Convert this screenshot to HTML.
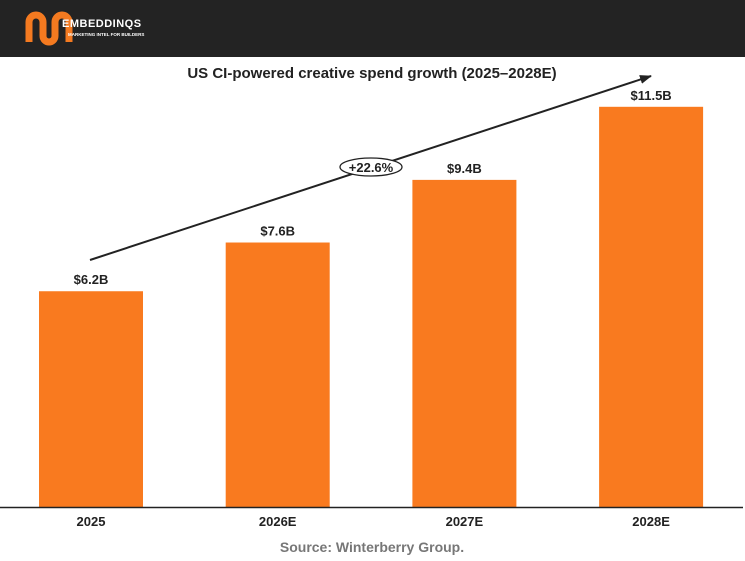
<!DOCTYPE html>
<html><head><meta charset="utf-8"><style>
body{margin:0;width:745px;height:556px;background:#fff;overflow:hidden;font-family:"Liberation Sans",Arial,sans-serif}
</style></head><body>
<svg width="745" height="556" xmlns="http://www.w3.org/2000/svg">
<rect x="0" y="0" width="745" height="57" fill="#232323"/>
<g>
<path d="M29 42 V22 a7 7 0 0 1 14 0 V36 a6 6 0 0 0 12 0 V22 a7 7 0 0 1 14 0 V42" fill="none" stroke="#f47a20" stroke-width="7"/>
<text x="62" y="27" fill="#fff" font-size="11" font-weight="bold" letter-spacing="0.5">EMBEDDINQS</text>
<text x="68" y="36" fill="#fff" font-size="4.5" font-weight="bold">MARKETING INTEL FOR BUILDERS</text>
</g>
<text x="372" y="78" text-anchor="middle" font-size="15" font-weight="bold" fill="#222">US CI-powered creative spend growth (2025–2028E)</text>
<g id="bars"></g>
<line x1="0" y1="507.5" x2="743" y2="507.5" stroke="#222" stroke-width="1.5"/>
<defs><marker id="ah" markerUnits="userSpaceOnUse" markerWidth="12" markerHeight="9" refX="11" refY="4.5" orient="auto"><path d="M0 0 L12 4.5 L0 9 Z" fill="#222"/></marker></defs>
<line x1="90" y1="260" x2="651" y2="76" stroke="#222" stroke-width="2" marker-end="url(#ah)"/>
<g>
<ellipse cx="371" cy="167" rx="31" ry="9" fill="#fff" stroke="#222" stroke-width="1.3"/>
<text x="371" y="172" text-anchor="middle" font-size="13" font-weight="bold" fill="#222">+22.6%</text>
</g>
<text x="372" y="552" text-anchor="middle" font-size="14" font-weight="bold" fill="#777">Source: Winterberry Group.</text>
</svg>
<script>
const categories=["2025","2026E","2027E","2028E"];
const values=[6.2,7.6,9.4,11.5];
const valueLabels=["$6.2B","$7.6B","$9.4B","$11.5B"];
const baseY=507, pxPerUnit=34.8, barW=104, x0=39, step=186.7;
const xs=i=>x0+i*step;
const ys=v=>baseY-v*pxPerUnit;
const g=document.getElementById('bars');
const NS='http://www.w3.org/2000/svg';
categories.forEach((c,i)=>{
 const r=document.createElementNS(NS,'rect');
 r.setAttribute('x',xs(i));r.setAttribute('y',ys(values[i]));
 r.setAttribute('width',barW);r.setAttribute('height',baseY-ys(values[i]));
 r.setAttribute('fill','#f97a1f');
 
 
 g.appendChild(r);
 const t=document.createElementNS(NS,'text');
 t.setAttribute('x',xs(i)+barW/2);t.setAttribute('y',ys(values[i])-7);
 t.setAttribute('text-anchor','middle');t.setAttribute('font-size','13');t.setAttribute('font-weight','bold');t.setAttribute('fill','#222');
 t.textContent=valueLabels[i];
 
 
 g.appendChild(t);
 const l=document.createElementNS(NS,'text');
 l.setAttribute('x',xs(i)+barW/2);l.setAttribute('y',526);
 l.setAttribute('text-anchor','middle');l.setAttribute('font-size','13');l.setAttribute('font-weight','bold');l.setAttribute('fill','#222');
 l.textContent=c;
 
 
 g.appendChild(l);
});
</script>
</body></html>
